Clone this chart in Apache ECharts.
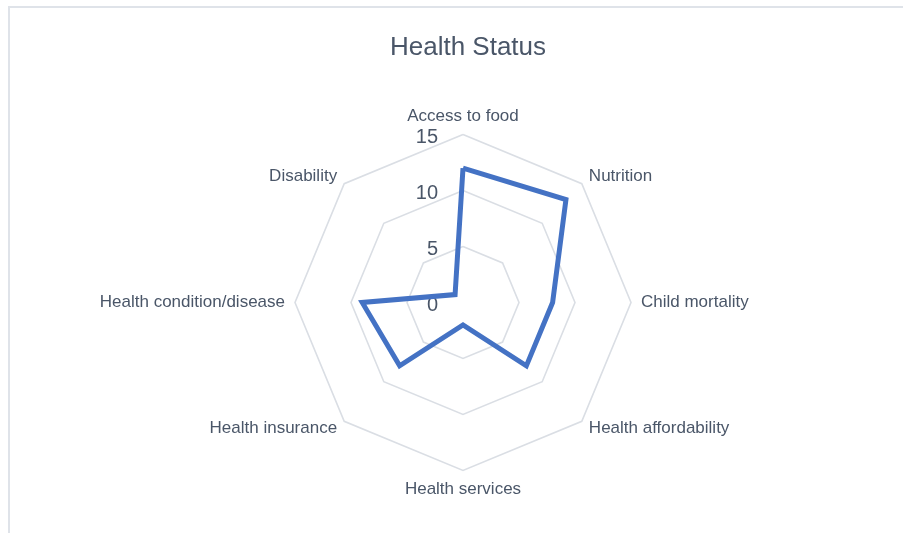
<!DOCTYPE html>
<html>
<head>
<meta charset="utf-8">
<script src="https://cdn.jsdelivr.net/npm/echarts@6/dist/echarts.min.js"></script>
<style>
html,body{margin:0;padding:0;background:#fff;}
#chart{position:absolute;left:0;top:0;width:903px;height:533px;}
#frame{position:absolute;left:8px;top:6px;width:900px;height:540px;border-left:2px solid #dfe3e9;border-top:2px solid #dfe3e9;pointer-events:none;}
</style>
</head>
<body>
<div id="chart"></div>
<div id="frame"></div>
<script>
// categories listed clockwise starting at the top
const categories = ["Access to food","Nutrition","Child mortality","Health affordability","Health services","Health insurance","Health condition/disease","Disability"];
const values = [12, 13, 8, 8, 2, 8, 9, 1];
const tickValues = [0, 5, 10, 15];
const axisMax = 15;
const textColor = '#4a5668';

// ECharts radar runs counter-clockwise: keep the first item, reverse the rest
const order = [0].concat(categories.map((_, i) => i).slice(1).reverse());
const ccwCategories = order.map(i => categories[i]);
const ccwValues = order.map(i => values[i]);

const chart = echarts.init(document.getElementById('chart'), null, {renderer:'canvas'});
chart.setOption({
  animation:false,
  title:{
    text:'Health Status', left:463, top:30, textAlign:'center',
    textStyle:{fontFamily:'Liberation Sans', fontSize:26, fontWeight:'normal', color:textColor}
  },
  radar:{
    center:[463, 302.5],
    radius:168,
    startAngle:90,
    splitNumber:3,
    shape:'polygon',
    indicator: ccwCategories.map(n => ({name:n, min:0, max:axisMax})),
    axisName:{color:textColor, fontFamily:'Liberation Sans', fontSize:17},
    nameGap:10,
    axisLine:{show:false},
    axisTick:{show:false},
    axisLabel:{show:false},
    splitArea:{show:false},
    splitLine:{lineStyle:{color:'#dadee4', width:1.6}}
  },
  grid:{left:463, top:137, height:168, width:10},
  xAxis:{type:'value', show:false},
  yAxis:{
    type:'value', min:0, max:axisMax, interval:5, position:'left',
    axisLine:{show:false}, axisTick:{show:false}, splitLine:{show:false},
    axisLabel:{margin:25, color:textColor, fontFamily:'Liberation Sans', fontSize:20,
      customValues: tickValues}
  },
  series:[{
    type:'radar',
    symbol:'none',
    lineStyle:{color:'#4472c4', width:5, join:'miter'},
    data:[{value:ccwValues}]
  }]
});
</script>
</body>
</html>
